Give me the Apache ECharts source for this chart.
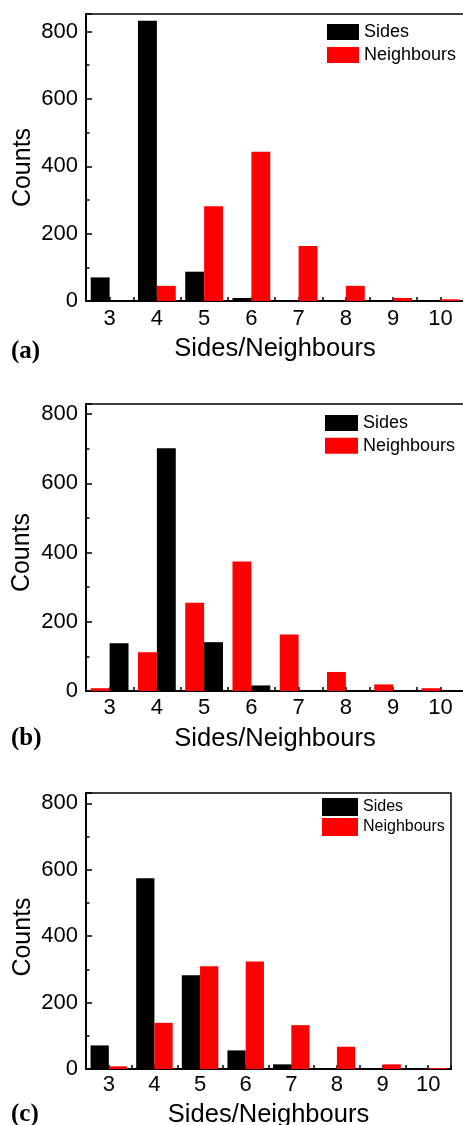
<!DOCTYPE html>
<html><head><meta charset="utf-8">
<script src="https://cdn.jsdelivr.net/npm/echarts@6/dist/echarts.min.js"></script>
<style>html,body{margin:0;padding:0;background:#fff}#c{width:463px;height:1125px}</style>
</head><body><div id="c"></div>
<script>
const categories = ['3','4','5','6','7','8','9','10'];
const sidesA = [70, 832, 87, 9, 0, 0, 0, 0];
const neighA = [0, 45, 281, 443, 163, 45, 9, 5];
const sidesB = [138, 701, 141, 16, 0, 0, 0, 0];
const neighB = [8, 112, 255, 374, 163, 55, 19, 8];
const sidesC = [71, 574, 282, 56, 14, 0, 0, 0];
const neighC = [8, 139, 309, 324, 132, 67, 14, 3];
const yTicks = [0, 200, 400, 600, 800];
const tags = ['(a)', '(b)', '(c)'];

const SANS = 'Liberation Sans, Arial, sans-serif';
const panels = [
  {top:14, height:287, width:378, max:852, sides:sidesA, neigh:neighA, redFirst:false, tagTop:339,
   lg:{left:327, top:23, w:32, h:16, gap:5, fs:18}, xMargin:7, xNameGap:35, yNameGap:50, yNamePad:20},
  {top:404, height:287, width:378, max:829, sides:sidesB, neigh:neighB, redFirst:true, tagTop:726,
   lg:{left:325, top:414, w:33, h:16, gap:4.7, fs:18}, xMargin:6, xNameGap:35, yNameGap:51, yNamePad:10},
  {top:793, height:276, width:365, max:831, sides:sidesC, neigh:neighC, redFirst:false, tagTop:1102,
   lg:{left:322, top:798, w:36, h:18, gap:2, fs:16}, xMargin:5, xNameGap:33, yNameGap:50, yNamePad:12}
];

const grid = [], xAxis = [], yAxis = [], series = [], legend = [], title = [];
panels.forEach((p, i) => {
  grid.push({left:86, top:p.top, width:p.width, height:p.height, show:true,
    borderColor:'#000', borderWidth:1.5, backgroundColor:'transparent',
    containLabel:false, outerBoundsMode:'none'});
  xAxis.push({type:'category', gridIndex:i, data:categories, position:'bottom',
    name:'Sides/Neighbours', nameLocation:'middle', nameGap:p.xNameGap, nameMoveOverlap:false,
    nameTextStyle:{fontFamily:SANS, fontSize:25.5, color:'#000'},
    axisLine:{lineStyle:{color:'#000', width:2}},
    axisTick:{show:true, inside:true, length:4, alignWithLabel:false, interval:0, lineStyle:{color:'#000', width:1.5}},
    axisLabel:{fontFamily:SANS, fontSize:22, color:'#000', margin:p.xMargin, interval:0},
    splitLine:{show:false}});
  xAxis.push({type:'category', gridIndex:i, data:categories, position:'bottom', offset:0,
    axisLine:{show:false}, axisLabel:{show:false},
    axisTick:{show:true, inside:true, length:4, alignWithLabel:true, interval:0, lineStyle:{color:'#000', width:1.5}},
    splitLine:{show:false}});
  yAxis.push({type:'value', gridIndex:i, min:0, max:p.max, interval:200,
    name:'Counts', nameLocation:'middle', nameRotate:90, nameGap:p.yNameGap, nameMoveOverlap:false,
    nameTextStyle:{fontFamily:SANS, fontSize:25, color:'#000', padding:[0, p.yNamePad, 0, 0]},
    axisLine:{show:true, lineStyle:{color:'#000', width:2}},
    axisTick:{show:true, inside:true, length:6, lineStyle:{color:'#000', width:1.5}},
    minorTick:{show:true, splitNumber:2, length:3.5, lineStyle:{color:'#000', width:1.5}},
    axisLabel:{fontFamily:SANS, fontSize:22, color:'#000', margin:8,
      formatter: v => (yTicks.indexOf(v) >= 0 ? String(v) : '')},
    splitLine:{show:false}, minorSplitLine:{show:false}});
  const sSides = {name:'Sides', type:'bar', xAxisIndex:2*i, yAxisIndex:i, data:p.sides,
    barWidth:'40%', barGap:'0%', itemStyle:{color:'#000000'}};
  const sNeigh = {name:'Neighbours', type:'bar', xAxisIndex:2*i, yAxisIndex:i, data:p.neigh,
    barWidth:'40%', barGap:'0%', itemStyle:{color:'#ff0000'}};
  if (p.redFirst) series.push(sNeigh, sSides); else series.push(sSides, sNeigh);
  legend.push({orient:'vertical', left:p.lg.left, top:p.lg.top, padding:0,
    itemWidth:p.lg.w, itemHeight:p.lg.h, itemGap:p.lg.gap, icon:'rect', selectedMode:false,
    data:['Sides','Neighbours'], textStyle:{fontFamily:SANS, fontSize:p.lg.fs, color:'#000', padding:[0,0,0,0]}});
  title.push({text:tags[i], left:11, top:p.tagTop, padding:0,
    textStyle:{fontFamily:'Liberation Serif, Times New Roman, serif', fontWeight:'bold', fontSize:25, color:'#000'}});
});

const chart = echarts.init(document.getElementById('c'), null, {renderer:'canvas'});
chart.setOption({animation:false, backgroundColor:'#fff', title, legend, grid, xAxis, yAxis, series});
</script>
</body></html>
